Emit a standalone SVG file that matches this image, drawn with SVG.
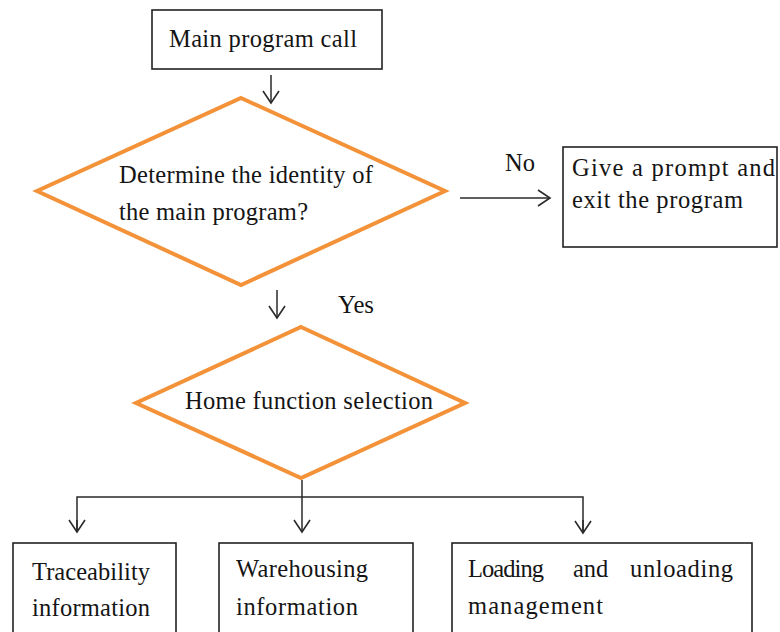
<svg xmlns="http://www.w3.org/2000/svg" width="780" height="632" viewBox="0 0 780 632">
<defs>
<style>
.box{fill:#fff;stroke:#222;stroke-width:1.6}
.dia{fill:#fff;stroke:#F39238;stroke-width:4;stroke-linejoin:miter}
.t{font-family:"Liberation Serif","Times New Roman",serif;font-size:24.5px;fill:#151515}
.c{fill:none;stroke:#2a2a2a;stroke-width:1.5}
</style>
<marker id="ah" markerUnits="userSpaceOnUse" markerWidth="20" markerHeight="20" viewBox="-14 -10 16 20" refX="0" refY="0" orient="auto">
<path d="M-12,-8 L0,0 L-12,8" fill="none" stroke="#2a2a2a" stroke-width="1.6"/>
</marker>
</defs>
<rect width="780" height="632" fill="#fff"/>

<g id="connectors">
<line class="c" x1="271" y1="75" x2="271" y2="103" marker-end="url(#ah)"/>
<line class="c" x1="460" y1="198" x2="550" y2="198" marker-end="url(#ah)"/>
<text class="t" x="505" y="171" textLength="30" lengthAdjust="spacingAndGlyphs">No</text>
<line class="c" x1="277" y1="290" x2="277" y2="318" marker-end="url(#ah)"/>
<text class="t" x="338" y="313" textLength="36" lengthAdjust="spacingAndGlyphs">Yes</text>
<line class="c" x1="302" y1="480" x2="302" y2="532" marker-end="url(#ah)"/>
<polyline class="c" points="77,532 77,497 583,497 583,533"/>
<line class="c" x1="77" y1="520" x2="77" y2="532" marker-end="url(#ah)"/>
<line class="c" x1="583" y1="520" x2="583" y2="533" marker-end="url(#ah)"/>
</g>

<g id="main-call">
<rect class="box" x="152" y="10" width="230" height="59"/>
<text class="t" x="169" y="47" textLength="188" lengthAdjust="spacing">Main program  call</text>
</g>

<g id="identity-check">
<polygon class="dia" points="241,98 445,191 241,285 37,191"/>
<text class="t" x="119" y="183" textLength="254" lengthAdjust="spacing">Determine the identity of</text>
<text class="t" x="119" y="220" textLength="189" lengthAdjust="spacing">the main program?</text>
</g>

<g id="exit">
<rect class="box" x="563" y="147" width="214" height="100"/>
<text class="t" x="572" y="176" textLength="203" lengthAdjust="spacing">Give a prompt and</text>
<text class="t" x="572" y="208" textLength="171" lengthAdjust="spacing">exit the program</text>
</g>

<g id="home-selection">
<polygon class="dia" points="301,327 465,403 301,478 136,403"/>
<text class="t" x="185" y="409" textLength="248" lengthAdjust="spacing">Home function selection</text>
</g>

<g id="traceability">
<rect class="box" x="13" y="543" width="163" height="100"/>
<text class="t" x="32" y="580" textLength="118" lengthAdjust="spacing">Traceability</text>
<text class="t" x="32" y="616" textLength="118" lengthAdjust="spacing">information</text>
</g>

<g id="warehousing">
<rect class="box" x="219" y="543" width="194" height="100"/>
<text class="t" x="236" y="577" textLength="132" lengthAdjust="spacing">Warehousing</text>
<text class="t" x="236" y="615" textLength="122" lengthAdjust="spacing">information</text>
</g>

<g id="loading">
<rect class="box" x="452" y="543" width="300" height="100"/>
<text class="t" x="468" y="577"><tspan x="468" textLength="76" lengthAdjust="spacing">Loading</tspan><tspan x="573">and</tspan><tspan x="630" textLength="103" lengthAdjust="spacing">unloading</tspan></text>
<text class="t" x="468" y="614" textLength="135" lengthAdjust="spacing">management</text>
</g>
</svg>
